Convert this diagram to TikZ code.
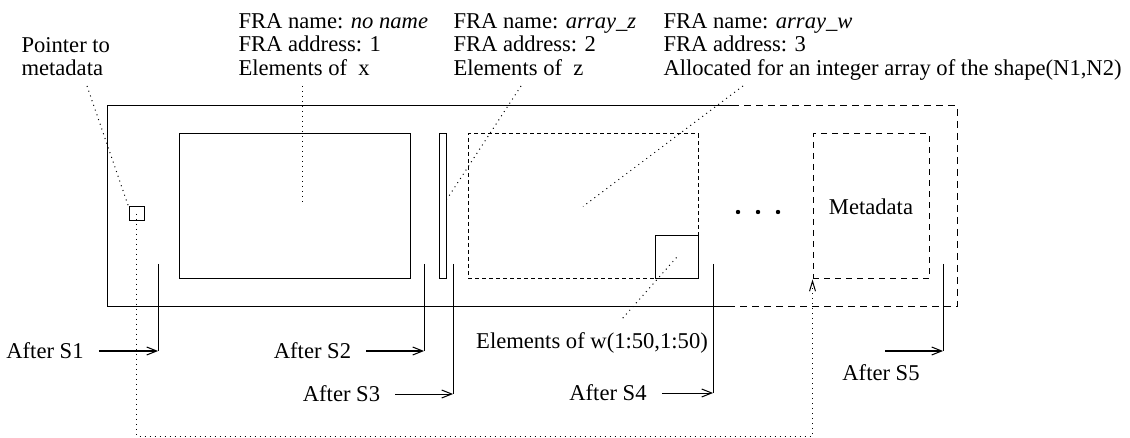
\documentclass[tikz,border=0pt]{standalone}
\usepackage{fontspec}
\setmainfont{Liberation Serif}
\usetikzlibrary{arrows.meta}

\begin{document}
\begin{tikzpicture}[x=0.5pt,y=-0.5pt,line width=0.5pt,
	every node/.style={font=\fontsize{11.3}{11.75}\selectfont},
	box/.style={draw,inner sep=0pt},
	dbox/.style={box,dash pattern=on 2pt off 1.5pt},
	mbox/.style={box,dash pattern=on 3pt off 2.5pt},
	outer/.style={dash pattern=on 3.5pt off 2.5pt},
	leader/.style={dash pattern=on 0.5pt off 2pt},
	steparrow/.style={-{Straight Barb[length=5pt,width=4pt]},shorten <=4pt},
	txt/.style={align=left,anchor=north west,inner sep=0pt}]
\useasboundingbox (0,0) rectangle (1130,438);

\draw (732,106) -| (107,307) -- (732,307);
\draw[outer] (732,106) -| (957,307) -- (732,307);

\node[box,minimum width=7.5pt,minimum height=7pt] (ptr) at (136.5,214) {};
\node[box,minimum width=115.5pt,minimum height=72.5pt] (xbox) at (294.5,206.5) {};
\node[box,minimum width=3.5pt,minimum height=72.5pt] (zbar) at (442.5,206.5) {};
\node[dbox,minimum width=115pt,minimum height=72.5pt] (wbox) at (583,206.5) {};
\node[box,minimum width=21.5pt,minimum height=21.5pt] (wsub) at (676.5,257.5) {};
\node[mbox,minimum width=58pt,minimum height=72.5pt] (meta) at (871,206.5) {Metadata};

\foreach \x in {738,758,778}
	\fill (\x,212) circle (1.1pt);

\node[txt] (ptrlab) at (21,37) {Pointer to\\metadata};
\node[txt] (xlab) at (238,13) {FRA name: \textit{no name}\\FRA address: 1\\Elements of~ x};
\node[txt] (zlab) at (453,13) {FRA name: \textit{array\_z}\\FRA address: 2\\Elements of~ z};
\node[txt] (wlab) at (663,13) {FRA name: \textit{array\_w}\\FRA address: 3\\Allocated for an integer array of the shape(N1,N2)};
\node (sublab) at (592,343) {Elements of w(1:50,1:50)};

\coordinate (ptr0) at (87,86);
\coordinate (x0) at (302,86);
\coordinate (x1) at (302,202);
\coordinate (z0) at (521,86);
\coordinate (z1) at (447,199);
\coordinate (w0) at (743,86);
\coordinate (sub0) at (622,319);
\coordinate (pb) at (136.5,436);
\draw[leader] (ptr0) -- (ptr.north west);
\draw[leader] (x0) -- (x1);
\draw[leader] (z0) -- (z1);
\draw[leader] (w0) -- (wbox.center);
\draw[leader] (wsub.center) -- (sub0);
\draw[leader,-{Straight Barb[length=5pt,width=3pt]}] (ptr.center) -- (pb) -| (meta.south west);

\foreach \n/\x/\y in {1/158/351,2/424/351,3/453/394,4/713/393,5/943/351}{
	\coordinate (e\n) at (\x,\y);
	\draw (\x,264) -- (e\n);
}
\node (s1) at (45,351) {After S1};
\node (s2) at (312.5,351) {After S2};
\node (s3) at (341.5,394) {After S3};
\node (s4) at (608,393) {After S4};
\node (s5) at (881,373) {After S5};
\coordinate (a5) at (885,351);
\draw[steparrow] (s1) -- (e1);
\draw[steparrow] (s2) -- (e2);
\draw[steparrow] (s3) -- (e3);
\draw[steparrow] (s4) -- (e4);
\draw[steparrow,shorten <=0pt] (a5) -- (e5);
\end{tikzpicture}
\end{document}
